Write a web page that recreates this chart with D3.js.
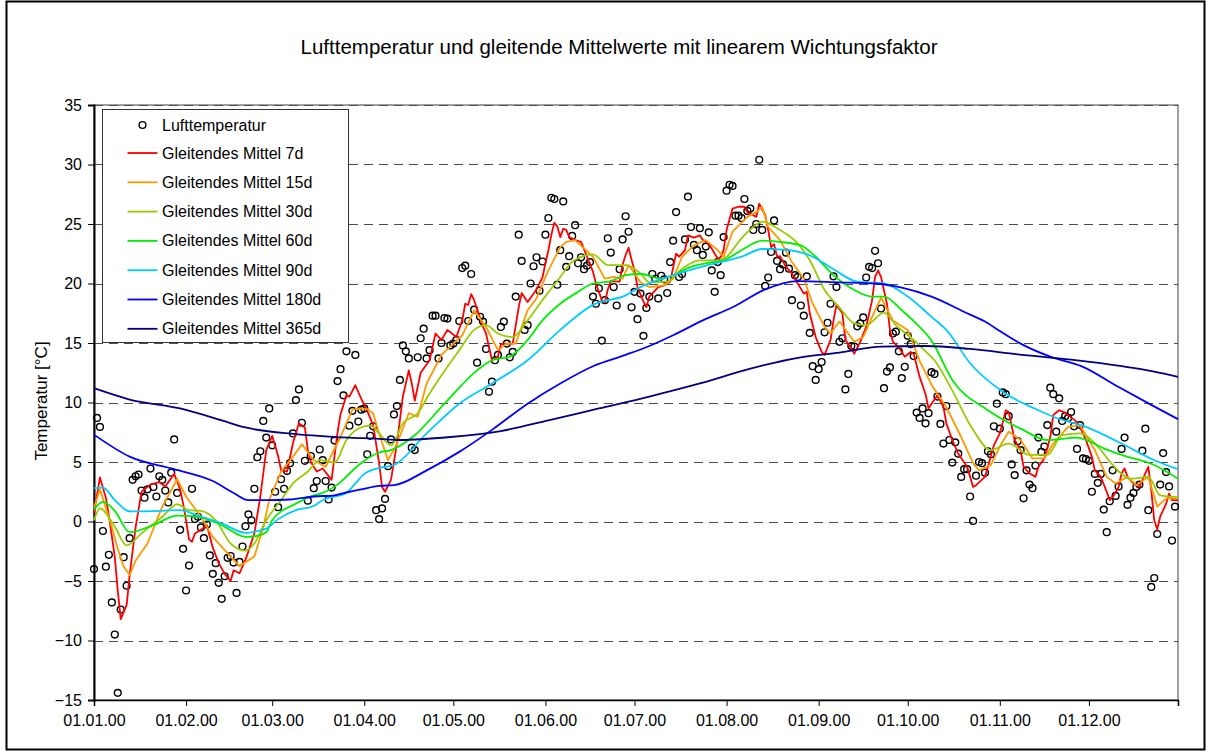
<!DOCTYPE html>
<html lang="de">
<head>
<meta charset="UTF-8">
<title>Lufttemperatur und gleitende Mittelwerte</title>
<style>
  body { margin: 0; background: #fff; }
  svg text { font-family: "Liberation Sans", Arial, sans-serif; fill: #000; }
  .grid line { stroke: #4d4d4d; stroke-width: 1; stroke-dasharray: 9,6; }
  .axis path, .axis line { stroke: #000; }
  .series { fill: none; stroke-width: 1.8; stroke-linejoin: round; }
  .dot { fill: none; stroke: #000; stroke-width: 1.4; }
</style>
</head>
<body>
<svg width="1211" height="752"></svg>
<script src="https://d3js.org/d3.v7.min.js"></script>
<script>

// daily air temperature 2000, one value per day from 01.01.
var lufttemperatur = [
  -4.0, 8.7, 7.95, -0.8, -3.8, -2.8, -6.8, -9.5, -14.4, -7.4,
  -3.0, -5.4, -1.4, 3.5, 3.8, 3.95, 2.6, 2.0, 2.7, 4.45,
  2.9, 2.1, 3.8, 3.5, 2.6, 1.6, 4.1, 6.9, 2.4, -0.7,
  -2.3, -5.8, -3.7, 2.75, 0.2, 0.4, -0.5, -1.4, -0.25, -2.85,
  -4.4, -3.5, -5.15, -6.5, -4.6, -3.05, -2.9, -3.45, -6.0, -3.4,
  -2.1, -0.4, 0.6, 0.1, 2.75, 5.4, 5.9, 8.45, 7.05, 9.5,
  6.4, 2.5, 1.2, 3.55, 2.75, 4.25, 4.9, 7.4, 10.2, 11.1,
  8.3, 5.1, 1.75, 5.5, 2.8, 3.4, 6.05, 5.15, 3.4, 1.85,
  2.85, 6.8, 11.8, 12.8, 10.6, 14.3, 8.05, 9.3, 14.0, 8.4,
  9.4, 9.5, 5.65, 7.2, 8.0, 0.95, 0.2, 1.1, 1.9, 4.65,
  6.9, 9.0, 9.7, 11.9, 14.8, 14.3, 13.7, 6.2, 6.0, 13.8,
  15.4, 16.2, 13.7, 14.4, 17.3, 17.3, 13.7, 15.0, 17.1, 17.05,
  14.8, 14.95, 15.25, 16.85, 21.3, 21.5, 16.85, 20.8, 17.8, 13.35,
  17.2, 16.8, 14.5, 10.9, 11.75, 13.55, 14.0, 16.35, 16.8, 14.95,
  13.8, 14.25, 18.9, 24.1, 21.9, 16.1, 16.5, 20.0, 21.45, 22.2,
  19.4, 21.85, 24.1, 25.5, 27.2, 27.1, 19.9, 22.8, 26.9, 21.4,
  22.3, 24.0, 24.9, 21.7, 22.2, 21.2, 21.5, 21.8, 18.9, 18.3,
  19.6, 15.2, 18.6, 23.8, 22.6, 19.7, 18.15, 21.2, 23.7, 25.65,
  24.35, 18.0, 19.3, 17.0, 19.15, 15.6, 17.95, 18.9, 20.8, 20.4,
  18.75, 20.65, 20.35, 19.2, 21.8, 23.6, 26.0, 20.55, 20.8, 23.7,
  27.3, 24.75, 23.25, 22.8, 24.65, 22.4, 23.1, 24.3, 21.1, 19.3,
  21.8, 20.7, 23.9, 27.8, 28.3, 28.2, 25.7, 25.7, 25.5, 27.1,
  26.1, 26.3, 24.5, 25.0, 30.4, 24.5, 19.8, 20.5, 22.65, 25.3,
  21.9, 21.2, 21.6, 22.6, 21.25, 18.6, 20.7, 20.55, 18.15, 17.3,
  20.6, 15.85, 13.05, 11.9, 12.8, 13.4, 15.9, 16.7, 18.3, 20.6,
  19.7, 15.1, 15.4, 11.1, 12.4, 14.75, 14.7, 16.4, 16.65, 17.15,
  20.5, 21.4, 21.3, 22.75, 21.7, 17.9, 11.2, 12.6, 12.95, 15.8,
  15.95, 14.3, 12.05, 13.0, 15.6, 14.9, 13.9, 9.15, 8.7, 9.5,
  8.25, 9.1, 12.55, 12.4, 10.5, 8.2, 6.55, 9.7, 6.85, 4.95,
  6.65, 5.7, 3.75, 4.4, 4.4, 2.1, 0.05, 3.85, 5.0, 4.9,
  4.1, 5.9, 5.65, 8.0, 9.9, 7.8, 10.85, 10.7, 8.85, 4.8,
  3.9, 6.75, 6.0, 1.95, 4.3, 3.1, 2.8, 4.7, 7.05, 5.85,
  6.3, 8.1, 11.25, 10.7, 7.55, 10.35, 8.45, 8.85, 8.7, 9.2,
  8.0, 6.1, 8.1, 5.3, 5.25, 5.1, 2.5, 4.0, 3.25, 4.0,
  1.0, -0.9, 1.7, 4.3, 2.15, 2.95, 6.1, 7.05, 1.4, 2.0,
  2.4, 2.9, 3.1, 5.95, 7.8, 0.95, -5.5, -4.75, -1.05, 3.1,
  5.75, 4.15, 2.95, -1.6, 1.25
];

// moving averages: [day of year, value]
var mittel7 = [[0,0.7],[2,3.7],[4,2.0],[5,0.5],[6,-1.2],[7,-3.0],[8,-5.8],[9,-8.2],[11,-7.0],[12,-4.5],
  [13,-2.5],[14,-0.5],[15,1.0],[16,2.5],[19,3.1],[22,3.3],[24,2.95],[27,4.0],[29,2.7],[30,1.5],
  [31,0.1],[32,-1.5],[33,-1.7],[34,-1.0],[36,-0.7],[38,-0.3],[40,-2.2],[42,-3.5],[44,-4.4],[46,-5.0],
  [47,-4.1],[49,-4.35],[51,-3.2],[52,-2.5],[54,-1.0],[56,2.1],[58,6.0],[60,7.2],[62,5.5],[63,4.3],
  [65,4.2],[67,6.6],[69,8.25],[71,7.9],[72,6.0],[73,5.0],[75,4.2],[77,4.45],[80,3.5],[82,7.5],
  [83,9.0],[85,10.6],[86,10.5],[88,11.45],[90,10.3],[92,9.3],[94,8.1],[96,4.9],[97,2.9],[98,2.5],
  [100,3.5],[102,6.55],[104,10.5],[106,12.7],[107,11.6],[108,10.15],[110,12.5],[113,13.55],[115,15.8],[117,15.25],
  [119,16.1],[122,15.5],[124,16.9],[125,18.3],[126,18.2],[127,19.1],[128,18.6],[131,16.35],[132,15.8],[134,13.55],
  [136,13.85],[137,14.9],[140,14.95],[141,14.95],[143,18.0],[144,19.2],[146,18.45],[149,19.5],[150,20.0],[151,20.5],
  [152,21.7],[153,22.8],[154,24.1],[155,25.1],[156,24.8],[157,23.9],[158,24.6],[159,24.5],[160,23.9],[162,23.65],
  [164,23.5],[166,22.25],[168,21.0],[169,20.0],[171,18.6],[172,18.4],[173,19.5],[174,20.2],[177,20.15],[178,21.6],
  [179,22.4],[180,23.0],[181,22.0],[182,21.1],[183,19.7],[185,18.5],[186,18.0],[187,18.9],[190,19.7],[192,19.85],
  [194,20.15],[196,22.5],[197,22.25],[199,22.8],[200,24.05],[202,23.85],[204,24.05],[205,23.65],[207,23.35],[209,22.5],
  [210,22.1],[211,22.2],[212,22.8],[213,24.5],[215,26.3],[217,26.45],[219,26.45],[220,26.0],[223,25.6],[224,26.7],
  [226,25.75],[227,24.5],[228,23.05],[229,23.3],[230,22.25],[231,22.3],[233,21.4],[235,20.85],[236,20.4],[239,19.15],
  [240,19.3],[241,17.5],[243,15.5],[245,14.25],[246,14.0],[248,15.25],[249,16.9],[250,18.2],[252,17.5],[253,15.25],
  [255,14.55],[256,14.1],[258,15.1],[260,16.35],[262,18.6],[263,20.55],[264,21.1],[265,20.55],[267,18.3],[268,16.1],
  [269,15.1],[271,14.65],[273,13.85],[275,14.25],[276,14.1],[278,12.15],[280,10.7],[281,9.5],[282,9.9],[284,10.6],
  [286,9.65],[287,8.25],[289,6.85],[291,5.7],[294,4.6],[295,3.75],[296,2.9],[297,3.05],[300,3.75],[301,4.6],
  [303,6.4],[305,7.4],[306,8.35],[307,9.35],[308,9.2],[310,6.85],[312,6.0],[313,4.6],[315,4.05],[317,3.75],
  [318,4.6],[320,5.3],[322,7.1],[323,8.95],[325,9.35],[327,9.15],[329,8.75],[331,8.35],[332,7.95],[334,6.85],
  [336,5.45],[337,4.3],[339,3.75],[341,2.5],[342,1.8],[343,2.05],[345,2.9],[346,4.05],[347,4.45],[348,3.75],
  [350,3.2],[352,2.9],[354,4.05],[355,4.6],[356,2.65],[357,0.1],[358,-0.65],[359,0.4],[361,1.5],[362,2.35],
  [363,1.8],[365,1.8]];

var mittel15 = [[0,1.2],[2,2.7],[6,-0.45],[8,-2.3],[10,-3.8],[12,-4.5],[14,-3.3],[18,-1.85],[23,1.25],[28,3.55],
  [31,2.1],[36,0.4],[40,-1.3],[46,-2.95],[49,-3.75],[54,-2.95],[57,-0.5],[59,1.8],[63,4.2],[67,5.45],
  [70,6.5],[74,5.15],[78,4.6],[83,7.1],[87,9.4],[90,9.5],[92,9.45],[94,9.1],[96,7.4],[99,5.15],
  [102,6.55],[106,9.1],[109,8.8],[112,11.6],[117,14.0],[121,14.95],[124,15.65],[128,17.75],[132,16.35],[136,14.4],
  [139,14.95],[142,14.95],[146,17.75],[149,18.75],[153,21.1],[157,23.05],[159,23.5],[162,23.65],[168,22.25],[172,20.4],
  [175,20.55],[178,20.4],[180,21.55],[184,20.1],[187,19.7],[192,19.85],[195,20.4],[198,22.25],[202,23.2],[206,23.65],
  [210,22.8],[212,22.25],[215,24.35],[220,25.6],[223,26.0],[225,26.45],[227,24.75],[231,23.65],[235,21.8],[239,20.4],
  [242,18.3],[246,16.35],[248,15.8],[251,16.8],[256,15.1],[259,15.5],[262,17.2],[265,18.8],[269,16.9],[274,16.1],
  [278,13.5],[282,11.5],[287,9.6],[292,7.1],[296,4.9],[298,4.3],[302,4.75],[305,6.3],[308,7.55],[312,6.85],
  [316,5.3],[320,5.3],[323,6.55],[328,7.95],[332,8.1],[337,6.0],[341,3.75],[344,3.2],[348,3.75],[351,3.05],
  [355,3.75],[358,1.25],[361,1.95],[365,1.95]];

var mittel30 = [[0,0.1],[2,1.1],[7,-0.45],[11,-2.0],[16,-1.0],[23,0.4],[28,1.45],[32,0.95],[36,0.9],[41,0.1],
  [46,-1.85],[51,-2.45],[54,-1.85],[58,0.1],[63,1.8],[67,3.2],[72,4.2],[76,5.15],[81,4.95],[85,6.85],
  [91,8.0],[93,8.05],[96,7.4],[100,6.4],[104,8.25],[109,9.1],[113,10.75],[119,13.0],[123,14.4],[128,16.1],
  [132,16.5],[136,15.8],[141,15.5],[146,16.9],[151,18.6],[157,20.55],[161,21.8],[168,22.45],[173,21.55],[179,21.55],
  [184,20.85],[187,20.1],[193,20.15],[198,21.25],[204,21.95],[210,21.95],[213,22.25],[218,23.8],[222,24.75],[225,25.2],
  [231,24.5],[237,23.35],[241,21.95],[246,19.45],[251,18.0],[256,16.65],[260,16.5],[266,17.55],[270,16.5],[276,15.25],
  [280,14.3],[283,13.55],[289,11.0],[296,7.7],[302,6.0],[308,6.55],[315,5.6],[321,5.6],[326,7.25],[332,7.4],
  [338,6.3],[343,4.75],[349,3.6],[355,3.75],[359,2.2],[365,2.05]];

var mittel60 = [[0,1.0],[3,1.65],[7,0.9],[12,-0.9],[20,-0.3],[28,0.5],[35,0.4],[43,-0.3],[51,-1.3],[55,-1.2],
  [58,-0.9],[60,0.1],[68,1.5],[74,2.2],[77,2.4],[82,3.1],[88,4.5],[91,5.1],[96,5.8],[100,6.0],
  [108,7.25],[118,9.9],[129,12.7],[134,13.55],[140,13.85],[146,15.25],[151,16.9],[157,18.3],[163,19.3],[168,20.0],
  [174,20.2],[179,20.7],[184,20.8],[191,20.4],[195,20.7],[201,21.4],[206,21.7],[212,21.95],[218,22.8],[225,23.6],
  [231,23.5],[238,23.2],[243,22.25],[249,20.7],[256,19.45],[262,18.9],[266,18.9],[272,17.75],[277,16.6],[282,15.2],
  [289,11.9],[301,9.35],[312,7.8],[321,6.85],[331,7.05],[340,6.15],[346,5.6],[357,4.75],[365,3.6]];

var mittel90 = [[0,2.8],[3,2.85],[7,1.8],[12,0.85],[20,0.87],[29,0.95],[35,0.5],[43,-0.15],[51,-0.95],[55,-0.8],
  [58,-0.6],[62,0.2],[68,0.95],[74,1.3],[77,1.8],[85,2.4],[88,3.2],[91,4.0],[96,4.5],[101,4.75],
  [112,7.4],[123,9.9],[134,11.6],[146,13.55],[157,16.1],[168,18.2],[179,19.0],[184,19.7],[195,20.7],[206,21.5],
  [218,22.25],[225,22.9],[234,22.8],[242,22.25],[249,21.2],[257,20.15],[266,20.0],[274,18.9],[282,17.2],[287,16.1],
  [295,13.3],[306,10.9],[318,9.35],[323,8.8],[334,7.95],[346,6.55],[357,5.15],[365,4.4]];

var mittel180 = [[0,7.3],[12,5.45],[27,4.4],[40,3.4],[47,2.4],[52,1.8],[58,1.8],[66,1.85],[74,2.1],[81,2.2],
  [86,2.5],[90,2.7],[96,3.0],[101,3.05],[112,4.3],[123,5.85],[134,7.7],[146,9.9],[157,11.6],[168,13.05],
  [179,14.0],[187,14.75],[195,15.65],[205,16.9],[215,18.0],[226,19.5],[237,20.2],[251,20.1],[263,20.0],[272,19.65],
  [282,18.9],[294,17.5],[300,16.8],[305,16.0],[312,14.95],[322,13.85],[333,13.0],[345,11.3],[356,9.8],[365,8.6]];

var mittel365 = [[0,11.2],[12,10.25],[29,9.5],[43,8.5],[51,7.9],[68,7.35],[86,7.05],[96,6.95],[103,6.85],[120,7.1],
  [137,7.6],[153,8.5],[170,9.5],[187,10.5],[204,11.6],[221,12.85],[238,13.8],[251,14.2],[265,14.7],[280,14.75],
  [295,14.5],[311,14.05],[329,13.6],[346,13.05],[357,12.6],[365,12.15]];

var serienNamen = ["Gleitendes Mittel 7d", "Gleitendes Mittel 15d", "Gleitendes Mittel 30d",
  "Gleitendes Mittel 60d", "Gleitendes Mittel 90d", "Gleitendes Mittel 180d", "Gleitendes Mittel 365d"];
var serienFarben = ["#ff0000", "#ff9900", "#99cc00", "#00ee00", "#00ccff", "#0000ff", "#000080"];
var serien = [mittel7, mittel15, mittel30, mittel60, mittel90, mittel180, mittel365];
var yTicks = [-15, -10, -5, 0, 5, 10, 15, 20, 25, 30, 35];

var start = new Date(2000, 0, 1);
function tag(i) { return d3.timeDay.offset(start, i); }

var svg = d3.select("svg"),
    margin = {top: 105, right: 33, bottom: 52, left: 94},
    width = +svg.attr("width") - margin.left - margin.right,
    height = +svg.attr("height") - margin.top - margin.bottom;

// outer chart frame
svg.append("rect")
    .attr("x", 6.5).attr("y", 1.5)
    .attr("width", 1198).attr("height", 748)
    .attr("fill", "#fff").attr("stroke", "#000").attr("stroke-width", 2);

svg.append("text")
    .attr("x", 619).attr("y", 54)
    .attr("text-anchor", "middle")
    .style("font-size", "20.5px")
    .text("Lufttemperatur und gleitende Mittelwerte mit linearem Wichtungsfaktor");

svg.append("text")
    .attr("transform", "translate(47,401) rotate(-90)")
    .attr("text-anchor", "middle")
    .style("font-size", "17px")
    .text("Temperatur [°C]");

var g = svg.append("g").attr("transform", "translate(" + margin.left + "," + margin.top + ")");

var x = d3.scaleTime()
    .domain([start, new Date(2000, 11, 31)])
    .range([0, width]);

var y = d3.scaleLinear()
    .domain([-15, 35])
    .range([height, 0]);

// plot area border (right side visible in grey)
g.append("rect")
    .attr("x", 0).attr("y", 0)
    .attr("width", width).attr("height", height)
    .attr("fill", "none").attr("stroke", "#808080").attr("stroke-width", 1.5);

g.append("g")
    .attr("class", "grid")
  .selectAll("line")
  .data(yTicks.filter(function(v) { return v > -15; }))
  .enter().append("line")
    .attr("x1", 0).attr("x2", width)
    .attr("y1", function(d) { return Math.round(y(d)) + 0.5; })
    .attr("y2", function(d) { return Math.round(y(d)) + 0.5; });

var yAxis = g.append("g")
    .attr("class", "axis")
    .call(d3.axisLeft(y).tickValues(yTicks).tickSize(6).tickPadding(6));
yAxis.select(".domain").attr("stroke-width", 2);
yAxis.selectAll("text").style("font-size", "16px");

var xAxis = g.append("g")
    .attr("class", "axis")
    .attr("transform", "translate(0," + height + ")")
    .call(d3.axisBottom(x)
        .ticks(d3.timeMonth.every(1))
        .tickFormat(d3.timeFormat("%d.%m.%y"))
        .tickSize(6).tickPadding(9));
xAxis.select(".domain").attr("stroke-width", 1.5);
xAxis.selectAll("text").style("font-size", "16px");

g.selectAll(".dot")
  .data(lufttemperatur)
  .enter().append("circle")
    .attr("class", "dot")
    .attr("cx", function(d, i) { return x(tag(i)); })
    .attr("cy", function(d) { return y(d); })
    .attr("r", 3.4);

var line = d3.line()
    .x(function(d) { return x(tag(d[0])); })
    .y(function(d) { return y(d[1]); });

g.selectAll(".series")
  .data(serien)
  .enter().append("path")
    .attr("class", "series")
    .attr("stroke", function(d, i) { return serienFarben[i]; })
    .attr("d", function(d, i) { return line.curve(i < 2 ? d3.curveLinear : d3.curveMonotoneX)(d); });

// legend
var legend = svg.append("g").attr("transform", "translate(102.5,109.5)");
legend.append("rect")
    .attr("width", 246).attr("height", 233)
    .attr("fill", "#fff").attr("stroke", "#333").attr("stroke-width", 1);

legend.append("circle")
    .attr("class", "dot")
    .attr("cx", 40).attr("cy", 15.5).attr("r", 3.4);
legend.append("text")
    .attr("x", 59.5).attr("y", 21)
    .style("font-size", "16px")
    .text("Lufttemperatur");

var items = legend.selectAll(".item")
  .data(serienNamen)
  .enter().append("g")
    .attr("transform", function(d, i) { return "translate(0," + (43.5 + i * 29.3) + ")"; });
items.append("line")
    .attr("x1", 25).attr("x2", 55)
    .attr("stroke", function(d, i) { return serienFarben[i]; })
    .attr("stroke-width", 1.8);
items.append("text")
    .attr("x", 59.5).attr("y", 5.5)
    .style("font-size", "16px")
    .text(function(d) { return d; });

</script>
</body>
</html>
